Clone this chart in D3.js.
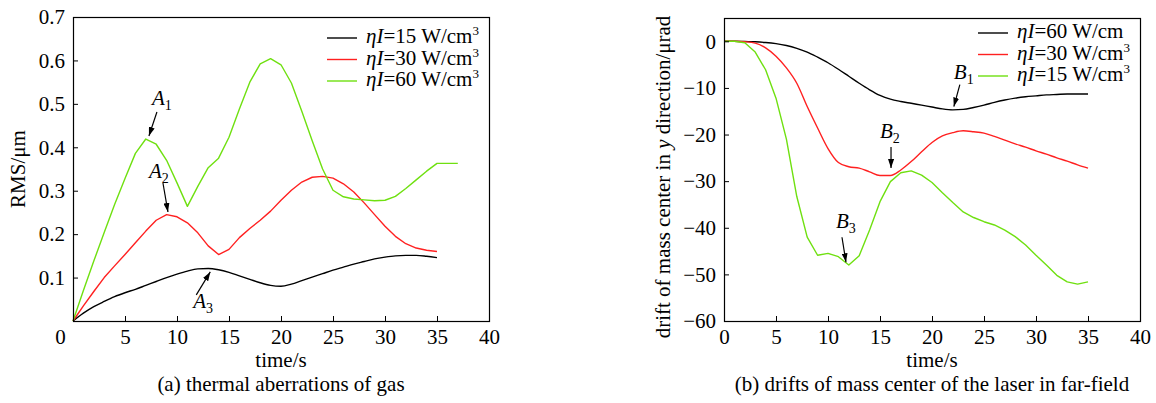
<!DOCTYPE html>
<html>
<head>
<meta charset="utf-8">
<script src="https://cdn.jsdelivr.net/npm/d3@7"></script>
<style>
  body { margin: 0; background: #fff; }
  svg { display: block; font-family: "Liberation Serif", "Times New Roman", serif; }
</style>
</head>
<body>
<svg id="chart" width="1156" height="403"></svg>
<script>
// ---- data ----
var timeTicks = [0, 5, 10, 15, 20, 25, 30, 35, 40];
var rmsTicks = [0.1, 0.2, 0.3, 0.4, 0.5, 0.6, 0.7];
var driftTicks = [0, -10, -20, -30, -40, -50, -60];

var times = [0,1,2,3,4,5,6,7,8,9,10,11,12,13,14,15,16,17,18,19,20,21,22,23,24,25,26,27,28,29,30,31,32,33,34,35];
var timesLong = [0,1,2,3,4,5,6,7,8,9,10,11,12,13,14,15,16,17,18,19,20,21,22,23,24,25,26,27,28,29,30,31,32,33,34,35,37];

// (a) RMS, um
var rms15 = [0,0.018,0.033,0.045,0.056,0.065,0.073,0.082,0.091,0.1,0.108,0.115,0.12,0.121,0.118,0.112,0.104,0.096,0.088,0.082,0.08,0.085,0.093,0.101,0.109,0.117,0.124,0.131,0.137,0.143,0.147,0.15,0.151,0.151,0.149,0.146];
var rms30 = [0,0.035,0.068,0.1,0.127,0.153,0.18,0.207,0.232,0.245,0.24,0.226,0.203,0.173,0.153,0.165,0.192,0.213,0.232,0.253,0.278,0.301,0.32,0.331,0.333,0.329,0.316,0.297,0.272,0.245,0.218,0.195,0.178,0.168,0.163,0.16];
var rms60 = [0,0.07,0.138,0.204,0.268,0.328,0.386,0.419,0.407,0.37,0.318,0.264,0.31,0.353,0.375,0.423,0.488,0.55,0.592,0.604,0.59,0.548,0.483,0.415,0.35,0.301,0.286,0.281,0.279,0.277,0.278,0.287,0.305,0.325,0.345,0.363,0.363];

// (b) drift of mass center, urad
var drift60 = [0,0,-0.05,-0.1,-0.25,-0.5,-0.9,-1.5,-2.3,-3.4,-4.6,-6,-7.5,-9,-10.4,-11.6,-12.4,-12.9,-13.3,-13.7,-14.1,-14.5,-14.7,-14.6,-14.2,-13.7,-13.1,-12.6,-12.2,-11.9,-11.7,-11.5,-11.4,-11.3,-11.3,-11.3];
var drift30 = [0,0,-0.1,-0.4,-1.4,-3.2,-5.7,-9,-14,-18.6,-23,-26,-26.9,-27.2,-28,-28.8,-28.8,-27.6,-25.8,-23.7,-21.7,-20.3,-19.6,-19.2,-19.4,-19.7,-20.4,-21.2,-22,-22.7,-23.5,-24.2,-25,-25.7,-26.5,-27.2];
var drift15 = [0,0,-0.3,-2.3,-6.1,-12.2,-21,-33.3,-42,-45.9,-45.5,-46.2,-48,-46,-40.5,-34.4,-30.1,-28.2,-27.8,-28.7,-30.3,-32.5,-34.6,-36.6,-37.8,-38.7,-39.4,-40.5,-41.9,-43.7,-45.9,-48,-50.2,-51.6,-52.1,-51.6];

var BLACK = '#000', RED = '#ff2020', GREEN = '#6fe010';

var svg = d3.select('#chart');

svg.append('defs').append('marker')
    .attr('id', 'arrow')
    .attr('markerUnits', 'userSpaceOnUse')
    .attr('markerWidth', 9).attr('markerHeight', 6)
    .attr('refX', 9).attr('refY', 3)
    .attr('orient', 'auto')
  .append('path')
    .attr('d', 'M0,0L9,3L0,6Z')
    .attr('fill', '#000');

/**
 * draws one panel: frame, inward ticks, curves, legend, labelled arrows
 */
function drawPanel(p) {
  var x = d3.scaleLinear().domain([0, 40]).range([p.left, p.left + 416]);
  var y = d3.scaleLinear().domain(p.yDomain).range([321, p.top]);
  var g = svg.append('g');

  p.series.forEach(function(s) {
    var pts = s.values.map(function(v, i) { return [s.times[i], v]; });
    g.append('path')
      .datum(pts)
      .attr('fill', 'none')
      .attr('stroke', s.color)
      .attr('stroke-width', 1.4)
      .attr('stroke-linejoin', 'round')
      .attr('d', d3.line()
        .curve(s.smooth ? d3.curveMonotoneX : d3.curveLinear)
        .x(function(d) { return x(d[0]); })
        .y(function(d) { return y(d[1]); }));
  });

  var gx = g.append('g')
      .attr('transform', 'translate(0,321)')
      .call(d3.axisBottom(x).tickValues(timeTicks).tickSizeInner(-5).tickSizeOuter(0).tickPadding(8));
  var gy = g.append('g')
      .attr('transform', 'translate(' + p.left + ',0)')
      .call(d3.axisLeft(y).tickValues(p.yTicks).tickSizeInner(-5).tickSizeOuter(0).tickPadding(8)
        .tickFormat(p.yFormat));
  [gx, gy].forEach(function(a) {
    a.attr('font-family', null).attr('font-size', 21);
    a.select('.domain').remove();
    a.selectAll('text').attr('fill', '#000');
  });
  if (p.zeroShift) {
    gx.selectAll('.tick').filter(function(d) { return d === 0; })
      .select('text').attr('x', p.zeroShift);
  }

  g.append('rect')
    .attr('x', p.left + 0.5).attr('y', p.top + 0.5)
    .attr('width', 416).attr('height', 321 - p.top)
    .attr('fill', 'none').attr('stroke', '#000').attr('stroke-width', 1.2);

  // axis titles
  g.append('text')
    .attr('x', p.left + 208).attr('y', 367)
    .attr('text-anchor', 'middle').attr('font-size', 21)
    .text('time/s');
  g.append('text')
    .attr('x', p.left + 208).attr('y', 391)
    .attr('text-anchor', 'middle').attr('font-size', 21)
    .text(p.caption);
  var yl = g.append('text')
    .attr('transform', 'translate(' + p.yLabelX + ',' + p.yLabelY + ') rotate(-90)')
    .attr('text-anchor', 'middle').attr('font-size', 21);
  p.yLabel.forEach(function(part) {
    yl.append('tspan').attr('font-style', part.italic ? 'italic' : null).text(part.t);
  });

  // legend
  p.series.forEach(function(s, i) {
    var ly = p.legendY + i * 21.5;
    g.append('line')
      .attr('x1', p.legendX).attr('x2', p.legendX + 30)
      .attr('y1', ly).attr('y2', ly)
      .attr('stroke', s.color).attr('stroke-width', 1.4);
    var t = g.append('text')
      .attr('x', p.legendX + 39).attr('y', ly + 5)
      .attr('font-size', 21);
    t.append('tspan').attr('font-style', 'italic').text('\u03b7I');
    t.append('tspan').text('=' + s.label);
    if (s.cubed) {
      t.append('tspan').attr('font-size', 13).attr('dy', -8).text('3');
    }
  });

  // labelled arrows
  p.notes.forEach(function(n) {
    var tx = x(n.at[0]), ty = y(n.at[1]);
    g.append('line')
      .attr('x1', tx + n.tail[0]).attr('y1', ty + n.tail[1])
      .attr('x2', tx).attr('y2', ty)
      .attr('stroke', '#000').attr('stroke-width', 1.2)
      .attr('marker-end', 'url(#arrow)');
    var t = g.append('text')
      .attr('x', tx + n.label[0]).attr('y', ty + n.label[1])
      .attr('font-size', 21);
    t.append('tspan').attr('font-style', 'italic').text(n.letter);
    t.append('tspan').attr('font-size', 14).attr('dy', 5).text(n.sub);
  });
}

drawPanel({
  left: 73, top: 17, yDomain: [0, 0.7], yTicks: rmsTicks,
  yFormat: d3.format('.1f'), zeroShift: -13,
  caption: '(a) thermal aberrations of gas',
  yLabel: [{t: 'RMS/\u03bcm'}], yLabelX: 25, yLabelY: 169,
  legendX: 327, legendY: 38,
  series: [
    {times: times, values: rms15, color: BLACK, smooth: true, label: '15 W/cm', cubed: true},
    {times: times, values: rms30, color: RED, label: '30 W/cm', cubed: true},
    {times: timesLong, values: rms60, color: GREEN, label: '60 W/cm', cubed: true}
  ],
  notes: [
    {letter: 'A', sub: '1', at: [7.3, 0.426], tail: [8, -24], label: [3, -31]},
    {letter: 'A', sub: '2', at: [9.13, 0.251], tail: [-5, -29], label: [-19, -34]},
    {letter: 'A', sub: '3', at: [13.2, 0.113], tail: [-14, 23], label: [-17, 36]}
  ]
});

drawPanel({
  left: 724, top: 18, yDomain: [-60, 5], yTicks: driftTicks,
  yFormat: d3.format('d'),
  caption: '(b) drifts of mass center of the laser in far-field',
  yLabel: [{t: 'drift of mass center in '}, {t: 'y', italic: true}, {t: ' direction/\u03bcrad'}],
  yLabelX: 670, yLabelY: 177,
  legendX: 978, legendY: 33,
  series: [
    {times: times, values: drift60, color: BLACK, smooth: true, label: '60 W/cm', cubed: false},
    {times: times, values: drift30, color: RED, smooth: true, label: '30 W/cm', cubed: true},
    {times: times, values: drift15, color: GREEN, label: '15 W/cm', cubed: true}
  ],
  notes: [
    {letter: 'B', sub: '1', at: [22.1, -14.0], tail: [6, -22], label: [0, -28]},
    {letter: 'B', sub: '2', at: [16.06, -27.2], tail: [0, -21], label: [-11, -30]},
    {letter: 'B', sub: '3', at: [11.73, -47.4], tail: [-4, -25], label: [-10, -34]}
  ]
});
</script>
</body>
</html>
